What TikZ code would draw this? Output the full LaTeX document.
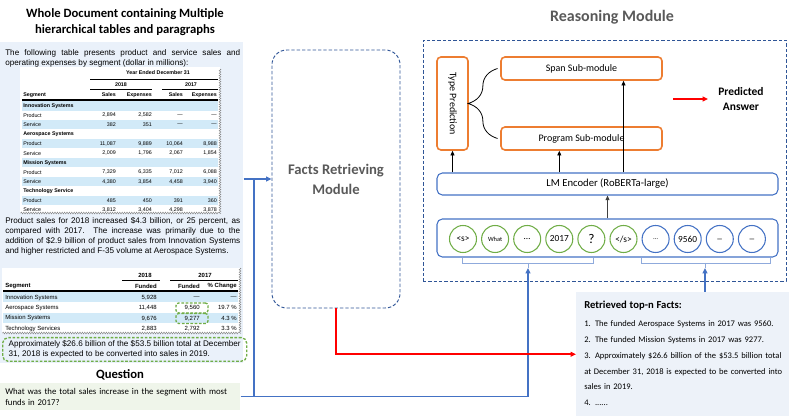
\documentclass[tikz,border=0pt]{standalone}
\usepackage{fontspec}
\setmainfont{Carlito}
\newfontfamily\arialfont{Liberation Sans}
\usetikzlibrary{arrows.meta,calc,decorations.pathmorphing,decorations.pathreplacing}
\definecolor{PanelClr}{HTML}{EAF1FA}
\definecolor{BandClr}{HTML}{D2EAF8}
\definecolor{QuestClr}{HTML}{EFF5EA}
\definecolor{FactsClr}{HTML}{EDF2F9}
\definecolor{SubClr}{HTML}{ED7D31}
\definecolor{GreenClr}{HTML}{70AD47}
\definecolor{ModClr}{HTML}{4472C4}
\definecolor{DashClr}{HTML}{2F5597}
\definecolor{BrkClr}{HTML}{8FAADC}
\definecolor{TitleClr}{HTML}{595959}

\tikzset{
  arr/.style={-{Triangle[length=3.5pt,width=3pt]},line width=0.6pt},
  bluearr/.style={draw=ModClr,line width=1pt,-{Triangle[length=4pt,width=3.5pt]}},
  redarr/.style={draw=red,line width=1.2pt,-{Triangle[length=4pt,width=3.5pt]}},
  dashbox/.style={draw=DashClr,line width=0.7pt,dash pattern=on 2.5pt off 1.5pt,inner sep=0pt},
  modbox/.style={draw=ModClr,line width=0.8pt,rounded corners=4pt,inner sep=0pt,
    minimum width=255.75pt,font=\fontsize{8}{10}\selectfont},
  subbox/.style={draw=SubClr,line width=1.2pt,rounded corners=3pt,inner sep=0pt,
    minimum width=120.75pt,minimum height=17.25pt,font=\fontsize{7.5}{9}\selectfont},
  tok/.style={circle,line width=0.8pt,minimum size=20.25pt,inner sep=0pt},
  ttl/.style={font=\bfseries\fontsize{9.5}{12}\selectfont,align=center},
  para/.style={font=\arialfont\fontsize{6.1}{7.5}\selectfont,text width=176.25pt,
    align=justify,inner sep=0pt,anchor=north west},
  tb/.style={font=\arialfont\fontsize{4}{5}\selectfont,inner sep=0pt},
  tbb/.style={tb,font=\arialfont\bfseries\fontsize{4}{5}\selectfont},
  tc/.style={font=\arialfont\fontsize{4.5}{5}\selectfont,inner sep=0pt},
  tcb/.style={tc,font=\arialfont\bfseries\fontsize{4.5}{5}\selectfont},
  torn/.style={draw=gray,line width=0.3pt,decorate,
    decoration={zigzag,amplitude=0.7pt,segment length=1.8pt}},
  gdash/.style={draw=GreenClr,line width=1pt,dash pattern=on 2pt off 1.2pt,rounded corners=2pt}
}

\begin{document}
\begin{tikzpicture}[x=0.75pt,y=-0.75pt]
\useasboundingbox (0,0) rectangle (789,416);

\node[fill=PanelClr,anchor=north west,minimum width=182.25pt,minimum height=240.75pt,inner sep=0pt] (doc) at (0,42) {};
\node[ttl] (dtitle) at (125,22) {Whole Document containing Multiple\\hierarchical tables and paragraphs};
\node[para] (p1) at (5,49) {The following table presents product and service sales and\linebreak operating expenses by segment (dollar in millions):};

\fill[white] (20,67) rectangle (220,213);
\node[tbb] (yend) at (158,73) {Year Ended December 31};
\draw[line width=0.6pt] (90,79) -- (218,79);
\node[tbb] (y18) at (121,84.5) {2018};
\node[tbb] (y17) at (191,84.5) {2017};
\draw[line width=0.6pt] (90,89) -- (152,89) (162,89) -- (218,89);
\node[tbb,anchor=west] (hseg) at (23,95) {Segment};
\foreach \x/\h in {116/Sales,152/Expenses,183/Sales,217/Expenses}
  \node[tbb,anchor=east] (h\x) at (\x,95) {\h};
\draw[line width=0.8pt] (22,100) -- (218,100);
\foreach \lab/\a/\b/\c/\d [count=\i from 0] in {
  {\bfseries Innovation Systems}/{}/{}/{}/{},
  Product/{2,894}/{2,582}/—/—,
  Service/382/351/—/—,
  {\bfseries Aerospace Systems}/{}/{}/{}/{},
  Product/{11,087}/{9,889}/{10,064}/{8,988},
  Service/{2,009}/{1,796}/{2,067}/{1,854},
  {\bfseries Mission Systems}/{}/{}/{}/{},
  Product/{7,329}/{6,335}/{7,012}/{6,088},
  Service/{4,380}/{3,854}/{4,458}/{3,940},
  {\bfseries Technology Service}/{}/{}/{}/{},
  Product/485/450/391/360,
  Service/{3,812}/{3,404}/{4,298}/{3,878}}{
  \pgfmathsetmacro\yy{106+9.45*\i}
  \ifodd\i\else\fill[BandClr] (22,\yy-4.6) rectangle (218,\yy+4.6);\fi
  \node[tb,anchor=west] (r\i) at (23,\yy) {\lab};
  \node[tb,anchor=east] (ra\i) at (116,\yy) {\a};
  \node[tb,anchor=east] (rb\i) at (152,\yy) {\b};
  \node[tb,anchor=east] (rc\i) at (183,\yy) {\c};
  \node[tb,anchor=east] (rd\i) at (217,\yy) {\d};
}
\draw[torn] (220,69) -- (220,213) -- (20,213);

\node[para] (p2) at (5,217) {Product sales for 2018 increased \$4.3 billion, or 25 percent, as\linebreak compared with 2017. The increase was primarily due to the\linebreak addition of \$2.9 billion of product sales from Innovation Systems\linebreak and higher restricted and F-35 volume at Aerospace Systems.};

\fill[white] (2,268) rectangle (240,333);
\node[tcb] (f18) at (145,275) {2018};
\node[tcb] (f17) at (205,275) {2017};
\draw[line width=0.6pt] (122,280) -- (160,280) (170,280) -- (238,280);
\node[tcb,anchor=west] (fseg) at (5,286) {Segment};
\node[tcb,anchor=east] (fh1) at (157,286) {Funded};
\node[tcb,anchor=east] (fh2) at (200,286) {Funded};
\node[tcb,anchor=east] (fh3) at (237,286) {\% Change};
\draw[line width=0.8pt] (3,291) -- (238,291);
\foreach \lab/\a/\b/\c [count=\i from 0] in {
  Innovation Systems/{5,928}/—/—,
  Aerospace Systems/{11,448}/{9,560}/{19.7 \%},
  Mission Systems/{9,676}/{9,277}/{4.3 \%},
  Technology Services/{2,883}/{2,792}/{3.3 \%}}{
  \pgfmathsetmacro\yy{297.5+10.4*\i}
  \ifodd\i\else\fill[BandClr] (3,\yy-5) rectangle (238,\yy+5);\fi
  \node[tc,anchor=west] (s\i) at (5,\yy) {\lab};
  \node[tc,anchor=east] (sa\i) at (157,\yy) {\a};
  \node[tc,anchor=east] (sb\i) at (200,\yy) {\b};
  \node[tc,anchor=east] (sc\i) at (237,\yy) {\c};
}
\draw[torn] (240,268) -- (240,333) -- (2,333);
\node[gdash,minimum width=24pt,minimum height=7.5pt] (pick1) at (192,308) {};
\node[gdash,minimum width=24pt,minimum height=7.5pt] (pick2) at (192,318.5) {};

\node[gdash,rounded corners=4pt,anchor=north west,text width=174pt,align=justify,
  inner xsep=4.5pt,inner ysep=2pt,font=\arialfont\fontsize{6.1}{7.9}\selectfont] (gnote) at (2,337)
  {Approximately \$26.6 billion of the \$53.5 billion total at December 31, 2018 is expected to be converted into sales in 2019.};

\node[ttl] (qtitle) at (120,375) {Question};
\node[fill=QuestClr,anchor=north west,text width=172.5pt,align=left,inner xsep=3.75pt,
  minimum height=20.25pt,font=\fontsize{6.6}{7.9}\selectfont] (quest) at (0,383)
  {What was the total sales increase in the segment with most funds in 2017?};

\node[dashbox,rounded corners=11pt,minimum width=96pt,minimum height=193.5pt,
  font=\bfseries\fontsize{11}{15}\selectfont,text=TitleClr,align=center] (facts) at (336,179)
  {Facts Retrieving\\Module};

\node[ttl,font=\bfseries\fontsize{12}{14}\selectfont,text=TitleClr] (rtitle) at (612,17) {Reasoning Module};
\node[dashbox,minimum width=272.25pt,minimum height=180.75pt] (reason) at (604.5,160.5) {};

\node[subbox,minimum width=23.25pt,minimum height=69.75pt] (tp) at (452.5,103.5) {\rotatebox{-90}{Type Prediction}};
\node[subbox] (span) at (581.5,68.5) {Span Sub-module};
\node[subbox] (prog) at (581.5,138.5) {Program Sub-module};
\draw[line width=0.6pt,decorate,decoration={brace,amplitude=22pt}] ([xshift=-2pt]prog.west) -- ([xshift=-2pt]span.west);

\coordinate (ra) at (673,99);
\node[anchor=west,inner xsep=7.5pt,inner ysep=1pt,align=center,font=\bfseries\fontsize{8.6}{11}\selectfont] (ans) at (708,99) {Predicted\\Answer};
\draw[redarr] (ra) -- (ans.west);

\node[modbox,minimum height=16.5pt] (lm) at (607.5,184) {LM Encoder (RoBERTa-large)};
\node[modbox,minimum height=28.5pt] (tok) at (607.5,238) {};
\foreach \t/\fs/\clr [count=\i] in {{<s>}/7/GreenClr,{What}/4.8/GreenClr,{\dots}/7/GreenClr,{2017}/7/GreenClr,
  {?}/10/GreenClr,{</s>}/7/GreenClr,{\dots}/5/ModClr,{9560}/7/ModClr,{\_}/7/ModClr,{\_}/7/ModClr}
  \node[tok,draw=\clr,font=\fontsize{\fs}{\fs}\selectfont] (t\i) at ({463+32.1*(\i-1)},239) {\t};

\draw[arr] (lm.north -| tp.south) -- (tp.south);
\draw[arr] (lm.north -| t4) -- (t4 |- prog.south);
\draw[arr] (lm.north -| t6) -- (t6 |- span.south);
\draw[arr,line width=0.9pt,draw=black!75] (tok.north) -- (lm.south);

\draw[BrkClr,line width=0.7pt] (462,258) -- (462,263) -- (593,263) -- (593,258) (528,263) -- (528,268) coordinate (qtip);
\draw[BrkClr,line width=0.7pt] (641,258) -- (641,263) -- (770,263) -- (770,258) (705,263) -- (705,268) coordinate (ftip);

\node[fill=FactsClr,anchor=north west,minimum width=159.75pt,minimum height=93pt,inner sep=0pt] (top) at (576,292) {};
\node[anchor=north west,inner sep=0pt,text width=150pt,align=left,font=\fontsize{6.4}{11.85}\selectfont] (toptxt) at (584,301)
  {{\bfseries\fontsize{8}{10}\selectfont Retrieved top-n Facts:}\\[1.6pt]
   1. The funded Aerospace Systems in 2017 was 9560.\\
   2. The funded Mission Systems in 2017 was 9277.\\
   3. Approximately \$26.6 billion of the \$53.5 billion total\\
   at December 31, 2018 is expected to be converted into\\
   sales in 2019.\\
   4. ......};

\coordinate (jn) at (254,179);
\draw[bluearr] (doc.east |- facts.west) -- (facts.west);
\draw[bluearr] (quest.east) -| (qtip);
\draw[draw=ModClr,line width=1pt] (quest.east -| jn) -- (jn);
\draw[bluearr] (top.north -| ftip) -- (ftip);
\draw[redarr] (facts.south) |- (top.west);
\end{tikzpicture}
\end{document}
